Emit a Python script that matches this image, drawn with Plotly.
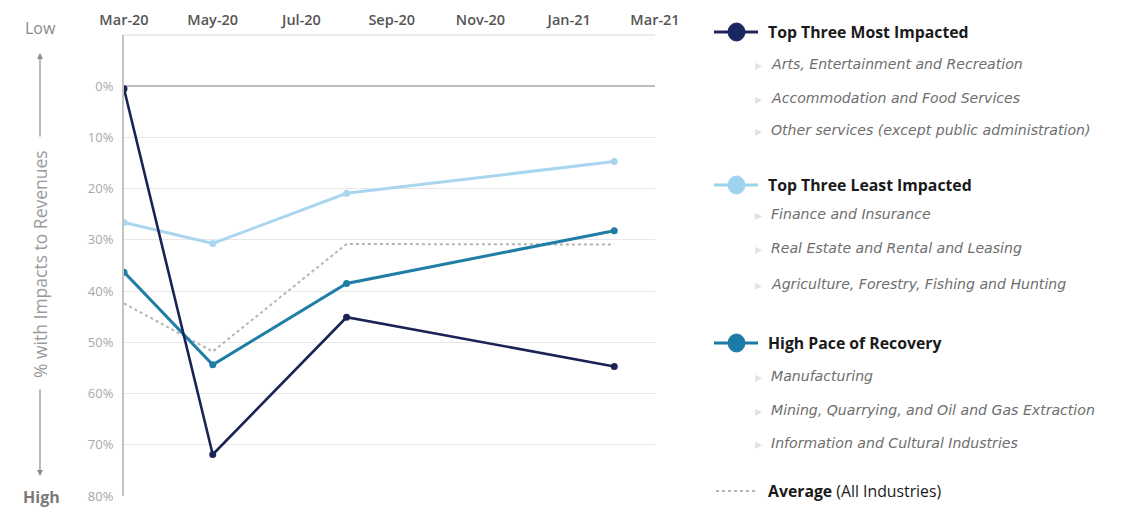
import plotly.graph_objects as go

# Survey periods
periods = ["2020-03-01", "2020-05-01", "2020-08-01", "2021-02-01"]

# Share of businesses with impacts to revenues (%)
most_impacted = [0.5, 71.9, 45.1, 54.7]
least_impacted = [26.6, 30.7, 20.9, 14.7]
high_recovery = [36.3, 54.4, 38.5, 28.2]
average_all = [42.4, 51.8, 30.8, 30.9]

y_ticks = [-10, 0, 10, 20, 30, 40, 50, 60, 70, 80]
y_ticktext = ["", "0%", "10%", "20%", "30%", "40%", "50%", "60%", "70%", "80%"]

legend_groups = [
    ("Top Three Most Impacted", "#1b2660",
     ["Arts, Entertainment and Recreation",
      "Accommodation and Food Services",
      "Other services (except public administration)"]),
    ("Top Three Least Impacted", "#9fd2ee",
     ["Finance and Insurance",
      "Real Estate and Rental and Leasing",
      "Agriculture, Forestry, Fishing and Hunting"]),
    ("High Pace of Recovery", "#1a7aa8",
     ["Manufacturing",
      "Mining, Quarrying, and Oil and Gas Extraction",
      "Information and Cultural Industries"]),
]

W, H = 1122, 507
L, R, T, B = 124, 467, 35, 11
PW, PH = W - L - R, H - T - B


def px(x):
    return (x - L) / PW


def py(y):
    return (H - B - y) / PH


fig = go.Figure()

series = [
    ("Average (All Industries)", average_all, "#b4b4b4", 2, "dot", False),
    ("Top Three Least Impacted", least_impacted, "#a9d6ee", 3, "solid", True),
    ("High Pace of Recovery", high_recovery, "#1f7ea6", 3, "solid", True),
    ("Top Three Most Impacted", most_impacted, "#1a2356", 2.6, "solid", True),
]
for name, vals, color, width, dash, markers in series:
    fig.add_trace(go.Scatter(
        x=periods, y=vals, name=name,
        mode="lines+markers" if markers else "lines",
        line=dict(color=color, width=width, dash=dash),
        marker=dict(size=7, color=color),
        showlegend=False,
    ))

shapes = []
annotations = []

# Topmost gridline along the upper edge of the plot
shapes.append(dict(type="line", xref="paper", yref="paper",
                   x0=0, x1=1, y0=1, y1=1,
                   line=dict(color="#e6e6e6", width=1.5), layer="below"))

HEAD_FONT = dict(size=15.8, color="#1a1a1a", family="Open Sans, sans-serif")
ITEM_FONT = dict(size=14.1, color="#6e6e6e", family="DejaVu Sans, sans-serif")

# Custom legend
header_y = [32, 185, 343]
item_y = [[64, 98, 130], [214, 248, 284], [376, 410, 443]]
for (title, color, items), hy, iys in zip(legend_groups, header_y, item_y):
    shapes.append(dict(type="line", xref="paper", yref="paper",
                       x0=px(714), x1=px(758), y0=py(hy), y1=py(hy),
                       line=dict(color=color, width=3)))
    shapes.append(dict(type="circle", xref="paper", yref="paper",
                       x0=px(728), x1=px(745), y0=py(hy - 9), y1=py(hy + 9),
                       fillcolor=color, line=dict(color=color, width=1)))
    annotations.append(dict(xref="paper", yref="paper", x=px(766), y=py(hy),
                            xanchor="left", yanchor="middle", showarrow=False,
                            text="<b>" + title + "</b>", font=HEAD_FONT))
    for it, iy in zip(items, iys):
        annotations.append(dict(xref="paper", yref="paper", x=px(753), y=py(iy),
                                xanchor="left", yanchor="middle", showarrow=False,
                                text="▸", font=dict(size=14, color="#e2e2e2")))
        annotations.append(dict(xref="paper", yref="paper", x=px(769), y=py(iy),
                                xanchor="left", yanchor="middle", showarrow=False,
                                text="<i>" + it + "</i>", font=ITEM_FONT))

shapes.append(dict(type="line", xref="paper", yref="paper",
                   x0=px(716), x1=px(755), y0=py(491), y1=py(491),
                   line=dict(color="#b4b4b4", width=2, dash="dot")))
annotations.append(dict(xref="paper", yref="paper", x=px(766), y=py(491),
                        xanchor="left", yanchor="middle", showarrow=False,
                        text="<b>Average</b> (All Industries)", font=HEAD_FONT))

# Vertical scale description on the left
annotations.append(dict(xref="paper", yref="paper", x=px(40), y=py(28),
                        xanchor="center", yanchor="middle", showarrow=False,
                        text="Low", font=dict(size=16, color="#8a8a8a")))
annotations.append(dict(xref="paper", yref="paper", x=px(41), y=py(497),
                        xanchor="center", yanchor="middle", showarrow=False,
                        text="<b>High</b>", font=dict(size=16, color="#7a7a7a")))
annotations.append(dict(xref="paper", yref="paper", x=px(40), y=py(264),
                        xanchor="center", yanchor="middle", showarrow=False,
                        textangle=-90, text="% with Impacts to Revenues",
                        font=dict(size=17.5, color="#9a9a9a")))
annotations.append(dict(xref="paper", yref="paper", x=px(40), y=py(53),
                        ax=0, ay=85, showarrow=True, text="",
                        arrowhead=2, arrowsize=1, arrowwidth=1.2,
                        arrowcolor="#8a8a8a"))
annotations.append(dict(xref="paper", yref="paper", x=px(40), y=py(476),
                        ax=0, ay=-88, showarrow=True, text="",
                        arrowhead=2, arrowsize=1, arrowwidth=1.2,
                        arrowcolor="#8a8a8a"))

fig.update_layout(
    width=W, height=H,
    margin=dict(l=L, r=R, t=T, b=B, autoexpand=False),
    paper_bgcolor="white", plot_bgcolor="white",
    font=dict(family="Open Sans, sans-serif"),
    shapes=shapes, annotations=annotations,
    xaxis=dict(
        type="date", side="top", automargin=False,
        range=["2020-03-01", "2021-03-01"],
        tick0="2020-03-01", dtick="M2", tickformat="%b-%y",
        showgrid=False, zeroline=False, showline=False, ticks="",
        ticklabelstandoff=6,
        tickfont=dict(size=14.5, color="#555555", weight=600),
    ),
    yaxis=dict(
        range=[80, -10], automargin=False,
        tickvals=y_ticks, ticktext=y_ticktext,
        showgrid=True, gridcolor="#e8e8e8", gridwidth=1,
        zeroline=True, zerolinecolor="#bdbdbd", zerolinewidth=2,
        showline=True, linecolor="#c4c4c4", linewidth=2,
        ticks="", ticklabelstandoff=6,
        tickfont=dict(size=13, color="#a8a8a8"),
    ),
)

fig.write_html("out.html")
